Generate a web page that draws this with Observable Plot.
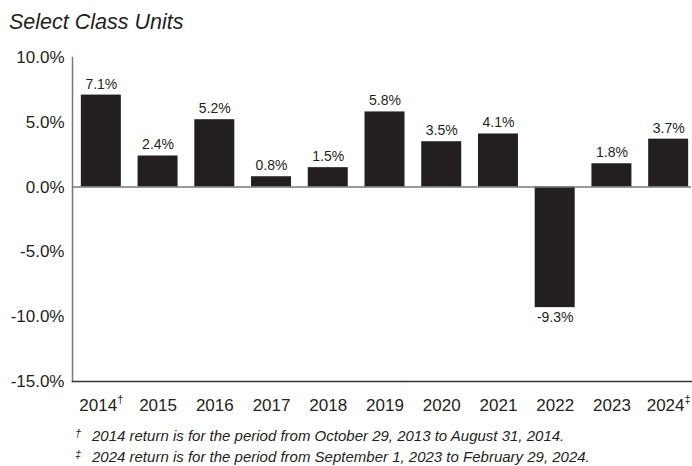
<!DOCTYPE html>
<html><head><meta charset="utf-8">
<script src="https://cdn.jsdelivr.net/npm/d3@7"></script>
<script src="https://cdn.jsdelivr.net/npm/@observablehq/plot@0.6"></script>
<style>
body{margin:0;background:#fff;width:692px;height:466px;overflow:hidden;font-family:"Liberation Sans",Arial,sans-serif;color:#231f20}
#title{position:absolute;left:9px;top:9px;font-size:21.5px;font-style:italic;line-height:26px}
#chart{position:absolute;left:0;top:40px}
.fn{position:absolute;left:75px;font-size:15px;font-style:italic;line-height:17px;white-space:nowrap}
.fn .m{display:inline-block;width:17px;font-size:11px;position:relative;top:-4px}
</style></head><body>
<div id="title">Select Class Units</div>
<div id="chart"></div>
<div class="fn" style="top:427px"><span class="m">†</span>2014 return is for the period from October 29, 2013 to August 31, 2014.</div>
<div class="fn" style="top:448px"><span class="m">‡</span>2024 return is for the period from September 1, 2023 to February 29, 2024.</div>
<script>
const years = ["2014","2015","2016","2017","2018","2019","2020","2021","2022","2023","2024"];
const marks = ["†","","","","","","","","","","‡"];
const returns = [7.1,2.4,5.2,0.8,1.5,5.8,3.5,4.1,-9.3,1.8,3.7];
const yTicks = [-15,-10,-5,0,5,10];
const data = years.map((y,i)=>({year:y, value:returns[i]}));
const fmt = v => v.toFixed(1) + "%";
const font = '"Liberation Sans",Arial,sans-serif';
const chart = Plot.plot({
  width: 692, height: 380,
  marginLeft: 72, marginRight: 1, marginTop: 17, marginBottom: 39,
  style:{fontFamily:font, color:"#231f20", background:"#fff"},
  x:{domain:years, range:[78,691], paddingInner:0.295, paddingOuter:0.05, round:false, label:null},
  y:{domain:[-15,10], ticks:yTicks, label:null, tickFormat:fmt},
  marks:[
    Plot.barY(data,{x:"year", y:"value", fill:"#231f20"}),
    Plot.ruleY([0],{stroke:"#777", strokeWidth:1.5}),
    Plot.frame({anchor:"left", stroke:"#777", strokeWidth:1.5}),
    Plot.frame({anchor:"bottom", stroke:"#333", strokeWidth:1.5}),
    Plot.text(data.filter(d=>d.value>=0),{x:"year", y:"value", text:d=>fmt(d.value), dy:-11, fontSize:14, fill:"#231f20"}),
    Plot.text(data.filter(d=>d.value<0),{x:"year", y:"value", text:d=>fmt(d.value), dy:10, fontSize:14, fill:"#231f20"}),
    Plot.axisY({ticks:yTicks, tickFormat:fmt, tickSize:0, tickPadding:8, fontSize:17, fill:"#231f20"}),
    Plot.axisX({tickSize:0, tickPadding:17, fontSize:17, fill:"#231f20"})
  ]
});
document.getElementById("chart").appendChild(chart);
d3.select(chart).selectAll('g[aria-label^="x-axis tick"] text').each(function(){
  const t = d3.select(this); const i = years.indexOf(t.text().trim());
  if (i>=0 && marks[i]) {
    t.append("tspan").attr("font-size",11).attr("dy","-0.7em").text(marks[i]);
  }
});
</script>
</body></html>
